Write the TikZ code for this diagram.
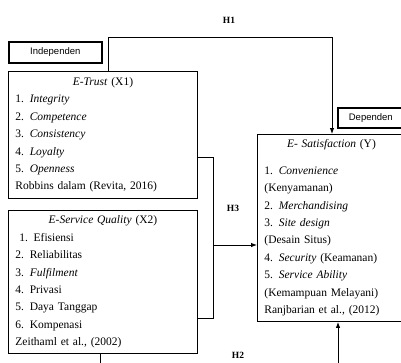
\documentclass[tikz,border=0pt]{standalone}
\usepackage{fontspec}
\setmainfont{Liberation Serif}
\setsansfont{Liberation Sans}
\usetikzlibrary{arrows.meta}
\begin{document}
\begin{tikzpicture}
% Research model drawn on the pixel grid of the source figure
\def\pxsz{1pt}
\providecommand{\modelLineColor}{black}
\providecommand{\modelBoxWidth}{0.9pt}
\providecommand{\modelTagWidth}{1.6pt}
\begin{scope}[x=\pxsz, y=-\pxsz, line join=miter,
  varbox/.style={draw=\modelLineColor, line width=\modelBoxWidth, anchor=north west,
    inner xsep=7pt, inner ysep=0pt, align=left, font=\fontsize{11.5}{17.4}\selectfont},
  tagbox/.style={draw=\modelLineColor, line width=\modelTagWidth, anchor=north west,
    inner sep=0pt, font=\sffamily\fontsize{9.5}{11}\selectfont},
  hyp/.style={font=\bfseries\fontsize{9.5}{11}\selectfont},
  wire/.style={draw=\modelLineColor, line width=\modelBoxWidth},
  link/.style={wire, -{Latex[length=6pt,width=4.5pt]}}]
  % Canvas
  \useasboundingbox (0,0) rectangle (401,362);
  \clip (0,0) rectangle (401,362);
  % Tags
  \node[tagbox, minimum width=93pt, minimum height=21pt] (indep) at (8,41) {Independen};
  \node[tagbox, minimum width=66pt, minimum height=20pt] (dep) at (337,107) {Dependen};
  % Variables
  \node[varbox, text width=175pt, minimum height=127pt] (trust) at (8,71) {%
    \hfill\textit{E-Trust} (X1)\hfill\null\\
    1. \textit{Integrity}\\
    2. \textit{Competence}\\
    3. \textit{Consistency}\\
    4. \textit{Loyalty}\\
    5. \textit{Openness}\\
    Robbins dalam (Revita, 2016)};
  \node[varbox, text width=175pt, minimum height=143pt] (esq) at (8,210) {%
    \hfill\textit{E-Service Quality} (X2)\hfill\null\\
    \ 1. Efisiensi\\
    2. Reliabilitas\\
    3. \textit{Fulfilment}\\
    4. Privasi\\
    5. Daya Tanggap\\
    6. Kompenasi\\
    Zeithaml et al., (2002)};
  \node[varbox, text width=134pt, minimum height=187pt] (sat) at (257,134) {%
    \hfill\textit{E- Satisfaction} (Y)\hfill\null\\[9pt]
    1. \textit{Convenience}\\
    (Kenyamanan)\\
    2. \textit{Merchandising}\\
    3. \textit{Site design}\\
    (Desain Situs)\\
    4. \textit{Security} (Keamanan)\\
    5. \textit{Service Ability}\\
    (Kemampuan Melayani)\\
    Ranjbarian et al., (2012)};
  % Hypotheses
  \node[hyp] (h1) at (229,20) {H1};
  \node[hyp] (h3) at (233,208) {H3};
  \node[hyp] (h2) at (238,355) {H2};
  % H1
  \coordinate (h1a) at (108,37);
  \coordinate (h1b) at (332,37);
  \draw[link] (trust.north -| h1a) -- (h1a) -- (h1b) -- (sat.north -| h1b);
  % H3
  \coordinate (h3a) at (213,157);
  \coordinate (h3b) at (213,318);
  \coordinate (h3c) at (213,245);
  \draw[wire] (h3a -| trust.east) -- (h3a) -- (h3b) -- (h3b -| esq.east);
  \draw[link] (h3c) -- (h3c -| sat.west);
  % H2
  \coordinate (h2a) at (100,375);
  \coordinate (h2b) at (338,375);
  \draw[link] (esq.south -| h2a) -- (h2a) -- (h2b) -- (sat.south -| h2b);
\end{scope}
\end{tikzpicture}
\end{document}
